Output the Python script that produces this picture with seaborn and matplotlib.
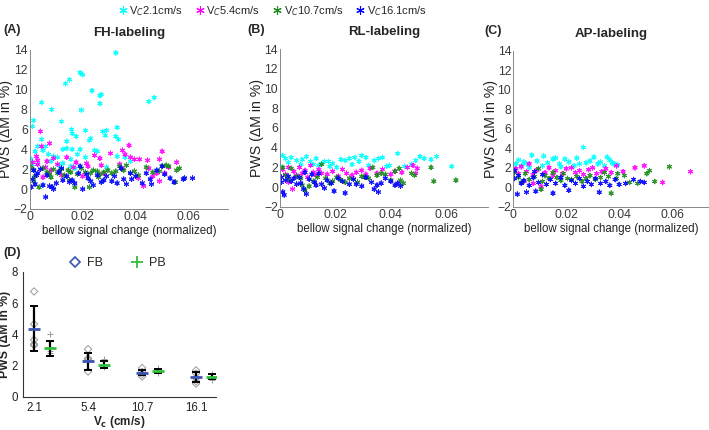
import numpy as np
import pandas as pd
import matplotlib
matplotlib.use("Agg")
from matplotlib import pyplot as plt
from matplotlib.lines import Line2D
import seaborn as sns

sns.set_theme(style="white")
plt.rcParams['font.family'] = ['Liberation Sans', 'DejaVu Sans']

speeds = ["2.1", "5.4", "10.7", "16.1"]
speed_colors = ["#00ffff", "#ff00ff", "#1a8a1a", "#0000ff"]

# ---- panel A (FH-labeling): (bellow change, PWS) per speed
fh_cyan = [(0.0325, 13.7), (0.019, 11.7), (0.020, 11.5), (0.015, 11.0), (0.0135, 10.6), (0.0235, 9.9),
           (0.027, 9.5), (0.0265, 9.4), (0.0265, 8.6), (0.0045, 8.7), (0.0083, 8.0), (0.0195, 7.95),
           (0.047, 9.2), (0.045, 8.8), (0.0015, 6.9), (0.001, 6.3), (0.012, 6.8), (0.0045, 5.0),
           (0.006, 4.3), (0.0158, 6.0), (0.016, 5.6), (0.014, 4.8), (0.0175, 5.3), (0.021, 5.9),
           (0.0225, 4.9), (0.023, 5.1), (0.0275, 5.8), (0.029, 5.9), (0.0285, 5.4), (0.033, 6.2),
           (0.0325, 5.3), (0.0335, 5.0), (0.0125, 4.0), (0.014, 4.1), (0.016, 4.0), (0.019, 4.0),
           (0.0245, 3.9), (0.0255, 3.8), (0.003, 4.3), (0.002, 3.8), (0.005, 3.9), (0.007, 3.5),
           (0.009, 3.3), (0.0105, 3.2), (0.018, 3.5), (0.0155, 3.0), (0.021, 3.2), (0.033, 3.3),
           (0.036, 3.2), (0.038, 2.8), (0.0005, 3.0), (0.001, 2.5), (0.003, 2.5), (0.008, 2.8),
           (0.011, 2.4), (0.0155, 2.3), (0.017, 2.1), (0.029, 2.2), (0.0125, 2.6)]
fh_magenta = [(0.004, 5.8), (0.0075, 4.6), (0.0045, 4.3), (0.0025, 3.3), (0.003, 2.9), (0.001, 2.7),
              (0.003, 2.5), (0.006, 2.2), (0.0065, 2.8), (0.009, 3.1), (0.0105, 2.5), (0.014, 3.2),
              (0.0175, 2.7), (0.0165, 2.2), (0.0215, 2.6), (0.022, 2.3), (0.0245, 3.4), (0.0265, 3.1),
              (0.027, 2.4), (0.0305, 3.6), (0.034, 2.5), (0.035, 3.9), (0.036, 3.5), (0.0375, 4.4),
              (0.038, 3.2), (0.0395, 3.0), (0.0415, 3.0), (0.0445, 2.9), (0.045, 2.1), (0.043, 0.3),
              (0.0465, 1.3), (0.049, 3.0), (0.050, 3.8), (0.048, 1.6), (0.051, 1.6), (0.0555, 2.7),
              (0.0525, 2.2), (0.049, 0.8), (0.020, 1.3), (0.005, 1.2), (0.008, 1.9), (0.012, 1.4),
              (0.028, 1.6), (0.041, 1.1), (0.035, 2.0)]
fh_green = [(0.0005, 2.2), (0.0015, 1.9), (0.002, 1.3), (0.0035, 0.2), (0.005, 2.1), (0.0065, 1.7),
            (0.0075, 1.5), (0.009, 2.0), (0.0105, 1.6), (0.011, 1.8), (0.012, 2.0), (0.013, 1.4),
            (0.0145, 1.9), (0.0155, 1.7), (0.017, 0.2), (0.018, 1.5), (0.0195, 2.1), (0.021, 1.7),
            (0.0225, 0.2), (0.023, 1.6), (0.024, 1.9), (0.0255, 1.8), (0.0265, 1.5), (0.028, 1.7),
            (0.0295, 1.9), (0.031, 1.6), (0.0325, 1.8), (0.034, 2.3), (0.0355, 1.9), (0.0365, 2.4),
            (0.038, 1.6), (0.0395, 1.8), (0.041, 1.4), (0.044, 2.2), (0.0465, 1.7), (0.049, 1.8),
            (0.050, 2.3), (0.0515, 2.4), (0.0525, 2.3), (0.055, 0.7), (0.0555, 1.9), (0.0565, 2.1),
            (0.0015, 0.8), (0.008, 1.2), (0.015, 0.9), (0.026, 1.2)]
fh_blue = [(0.0005, 0.2), (0.001, 1.0), (0.002, 0.5), (0.003, 1.6), (0.004, 2.0), (0.005, 0.4),
           (0.006, -0.8), (0.0065, 1.4), (0.0075, 0.3), (0.0085, 0.2), (0.009, 0.0), (0.010, 0.6),
           (0.011, 1.7), (0.012, 2.1), (0.0125, 0.9), (0.014, 1.3), (0.015, 0.7), (0.016, 0.9),
           (0.017, 0.6), (0.0185, 1.6), (0.019, 2.3), (0.020, 0.0), (0.0215, 1.5), (0.022, 1.1),
           (0.023, 0.8), (0.024, 0.4), (0.0255, 1.4), (0.027, 0.7), (0.028, 0.9), (0.029, 1.3),
           (0.031, 0.8), (0.032, 1.3), (0.033, 0.6), (0.0345, 2.1), (0.0355, 1.0), (0.0365, 0.5),
           (0.038, 1.6), (0.0385, 1.0), (0.040, 1.3), (0.0425, 0.6), (0.044, 1.6), (0.0455, 1.0),
           (0.046, 0.5), (0.048, 1.9), (0.050, 2.3), (0.051, 1.5), (0.053, 1.1), (0.0545, 0.7),
           (0.058, 1.0), (0.0615, 1.1), (0.0585, 1.1), (0.0015, 1.9), (0.0025, 1.4)]

# ---- panel B (RL-labeling)
rl_cyan = [(0.001, 3.2), (0.002, 2.9), (0.003, 2.5), (0.004, 3.0), (0.006, 2.7), (0.008, 2.8),
           (0.0095, 3.1), (0.011, 2.6), (0.012, 2.3), (0.013, 2.9), (0.014, 2.2), (0.016, 2.6),
           (0.018, 2.1), (0.019, 2.4), (0.0205, 2.0), (0.022, 2.8), (0.0235, 2.7), (0.025, 2.9),
           (0.026, 2.3), (0.027, 3.0), (0.0285, 2.6), (0.0295, 3.2), (0.031, 3.0), (0.032, 2.2),
           (0.034, 2.7), (0.0355, 2.9), (0.037, 3.0), (0.0385, 2.1), (0.0395, 2.2), (0.0425, 3.4),
           (0.045, 2.1), (0.0475, 2.3), (0.049, 2.7), (0.0505, 3.1), (0.052, 2.9), (0.0545, 2.8),
           (0.0565, 3.1), (0.062, 2.1), (0.0005, 2.0), (0.0075, 2.3), (0.015, 2.4), (0.0175, 2.6)]
rl_magenta = [(0.001, 1.8), (0.002, 1.3), (0.003, 2.0), (0.0045, -0.2), (0.005, 1.6), (0.006, 1.2),
              (0.007, 2.0), (0.008, 1.4), (0.009, 1.7), (0.010, 1.0), (0.011, 2.2), (0.012, 1.5),
              (0.013, 1.2), (0.014, 1.8), (0.015, 1.4), (0.017, 1.3), (0.019, 1.6), (0.021, 1.1),
              (0.0225, 1.8), (0.024, 1.4), (0.026, 1.2), (0.0275, 1.5), (0.0295, 1.7), (0.031, 1.3),
              (0.0325, 1.9), (0.035, 1.4), (0.037, 1.8), (0.040, 1.3), (0.0415, 1.6), (0.044, 1.5),
              (0.046, 2.0), (0.048, 2.2), (0.049, 1.4), (0.0495, 1.9), (0.003, 0.5)]
rl_green = [(0.001, 2.0), (0.002, 1.2), (0.003, 0.8), (0.004, 1.9), (0.006, 1.1), (0.0075, 0.9),
            (0.008, 0.2), (0.009, -0.3), (0.0105, 0.1), (0.012, 0.6), (0.0135, 1.0), (0.015, 2.3),
            (0.0165, 0.9), (0.018, 0.4), (0.019, 0.6), (0.0205, 1.0), (0.022, 0.7), (0.0235, 0.5),
            (0.025, 0.9), (0.0265, 0.8), (0.028, 0.5), (0.0295, 1.1), (0.0305, 1.0), (0.032, 0.9),
            (0.0335, 2.0), (0.035, 1.2), (0.0365, 1.4), (0.038, 1.3), (0.040, 0.7), (0.0415, 1.6),
            (0.043, 1.9), (0.0435, 0.7), (0.0445, 0.4), (0.0475, 1.4), (0.0485, 1.2), (0.0545, 2.0),
            (0.0555, 0.6), (0.0635, 0.7)]
rl_blue = [(0.0005, 0.5), (0.001, -0.5), (0.0015, -0.8), (0.002, 0.7), (0.003, 1.1), (0.004, 0.6),
           (0.005, 0.9), (0.006, 0.3), (0.007, 1.0), (0.0075, 0.4), (0.0085, -0.2), (0.0095, -0.7),
           (0.0105, 0.8), (0.0115, 1.3), (0.0125, 0.5), (0.013, 0.2), (0.014, 1.4), (0.015, 0.3),
           (0.016, -0.1), (0.017, 0.7), (0.0185, 0.4), (0.0195, -0.4), (0.021, 0.9), (0.0225, 0.6),
           (0.0235, -0.6), (0.025, 0.3), (0.0265, 0.8), (0.0275, 0.3), (0.0295, 0.1), (0.031, 1.0),
           (0.033, 0.5), (0.034, -0.2), (0.035, 0.2), (0.0355, -0.5), (0.0365, 0.4), (0.038, 0.9),
           (0.040, 0.6), (0.0415, 0.2), (0.0425, 0.4), (0.0435, 0.1), (0.0005, 1.0), (0.009, 1.5)]

# ---- panel C (AP-labeling)
ap_cyan = [(0.001, 2.4), (0.002, 2.8), (0.003, 2.2), (0.004, 2.6), (0.005, 2.4), (0.007, 3.3),
           (0.009, 2.7), (0.0115, 3.2), (0.013, 2.5), (0.015, 2.9), (0.016, 3.0), (0.0175, 2.4),
           (0.0195, 2.9), (0.021, 2.6), (0.023, 2.2), (0.024, 3.0), (0.025, 2.4), (0.0265, 4.1),
           (0.0275, 2.5), (0.029, 2.7), (0.0305, 3.1), (0.032, 2.4), (0.033, 2.6), (0.0345, 2.2),
           (0.0355, 3.1), (0.0365, 2.8), (0.0375, 2.5), (0.038, 2.4), (0.0395, 2.3), (0.0005, 1.9),
           (0.006, 2.0), (0.011, 2.2), (0.018, 2.1)]
ap_magenta = [(0.001, 1.9), (0.002, 1.4), (0.003, 2.1), (0.004, 0.6), (0.005, 1.6), (0.006, 2.4),
              (0.0075, 1.3), (0.009, 1.8), (0.0105, 0.1), (0.012, 1.5), (0.0135, 2.0), (0.015, 1.2),
              (0.016, 1.7), (0.0185, 1.4), (0.020, 1.9), (0.022, 2.0), (0.0235, 1.5), (0.025, 1.7),
              (0.0265, 1.3), (0.0285, 1.8), (0.030, 2.0), (0.0315, 1.4), (0.0335, 1.6), (0.035, 1.9),
              (0.037, 1.5), (0.039, 2.2), (0.0415, 1.6), (0.046, 2.0), (0.0495, 2.2), (0.0565, 0.5),
              (0.067, 1.6), (0.0075, 0.4)]
ap_green = [(0.0005, 1.5), (0.002, 1.0), (0.003, 0.5), (0.0045, 1.4), (0.006, 0.8), (0.008, 1.1),
            (0.0095, 1.9), (0.011, 0.6), (0.012, 1.2), (0.0135, 0.9), (0.015, 1.5), (0.0165, 1.0),
            (0.018, 0.7), (0.019, 1.4), (0.0205, 0.9), (0.022, 0.8), (0.024, 1.1), (0.026, 0.6),
            (0.0275, 0.9), (0.029, 1.2), (0.031, 0.8), (0.033, 1.0), (0.0345, 1.5), (0.036, 1.1),
            (0.037, -0.6), (0.039, 0.9), (0.0395, 1.4), (0.042, 1.2), (0.044, 0.5), (0.047, 0.4),
            (0.0505, 1.4), (0.0515, 1.7), (0.0535, 0.6), (0.059, 2.1), (0.0105, -0.2)]
ap_blue = [(0.0005, 0.9), (0.0015, -0.7), (0.002, 1.2), (0.003, 0.4), (0.004, 0.7), (0.005, -0.5),
           (0.006, 0.2), (0.0075, 1.0), (0.0085, -0.4), (0.0095, 0.5), (0.011, 1.3), (0.0125, 0.3),
           (0.014, 0.8), (0.015, -0.6), (0.016, 0.4), (0.018, 1.0), (0.0195, 0.2), (0.021, -0.3),
           (0.022, 0.7), (0.0235, 0.4), (0.025, 0.9), (0.0265, 0.1), (0.028, 0.6), (0.0295, 0.3),
           (0.031, 0.9), (0.0325, -0.5), (0.033, 0.4), (0.035, 0.6), (0.0365, 0.2), (0.0385, 0.8),
           (0.040, 0.3), (0.0425, 0.4), (0.0455, 0.8), (0.048, 0.6), (0.0495, 0.5), (0.0005, 1.7),
           (0.008, 1.6)]

# ---- panel D: group summaries (mean, low, high) and individual subjects
d_fb_mean = [4.35, 2.27, 1.55, 1.28]
d_fb_low = [2.95, 1.74, 1.38, 0.95]
d_fb_high = [5.82, 2.80, 1.75, 1.62]
d_pb_mean = [3.10, 2.06, 1.68, 1.30]
d_pb_low = [2.63, 1.84, 1.55, 1.15]
d_pb_high = [3.60, 2.32, 1.80, 1.45]
d_fb_points = [[6.74, 4.65, 3.65, 3.37, 3.30], [3.05, 2.47, 2.37, 1.62],
               [1.85, 1.60, 1.45, 1.30], [1.70, 1.50, 1.20, 1.00, 0.85]]
d_pb_points = [[4.00, 2.95, 2.80], [2.40, 1.94],
               [1.85, 1.55], [1.45, 1.20, 1.10]]


def make_df(groups):
    rows = []
    for spd, pts in zip(speeds, groups):
        for x, y in pts:
            rows.append({"x": x, "y": y, "speed": spd})
    return pd.DataFrame(rows)


# (label, title, data, rect, xmax, tag x, ylabel x) - x values in axes fractions
panels = [
    ("(A)", "FH-labeling", make_df([fh_cyan, fh_magenta, fh_green, fh_blue]),
     [0.042, 0.514, 0.280, 0.370], 0.075, -0.135, -0.085),
    ("(B)", "RL-labeling", make_df([rl_cyan, rl_magenta, rl_green, rl_blue]),
     [0.395, 0.519, 0.293, 0.367], 0.075, -0.155, -0.078),
    ("(C)", "AP-labeling", make_df([ap_cyan, ap_magenta, ap_green, ap_blue]),
     [0.724, 0.519, 0.276, 0.363], 0.074, -0.15, -0.08),
]

fig = plt.figure(figsize=(7.09, 4.30), dpi=100)
axis_col = "#3a3a3a"
asterisk = (6, 2, 0)

for tag, title, df, rect, xmax, tagx, labx in panels:
    ax = fig.add_axes(rect)
    sns.scatterplot(data=df, x="x", y="y", hue="speed", hue_order=speeds,
                    palette=speed_colors, marker=asterisk, s=11, linewidth=0.7,
                    alpha=0.9, legend=False, ax=ax)
    ax.set_xlim(0, xmax)
    ax.set_ylim(-2, 14)
    ax.set_xticks([0, 0.02, 0.04, 0.06])
    ax.set_xticklabels(["0", "0.02", "0.04", "0.06"])
    ax.set_yticks(range(-2, 15, 2))
    ax.tick_params(direction="in", length=2.5, width=0.6, labelsize=8.8,
                   colors=axis_col, pad=1.5)
    for s in ["top", "right"]:
        ax.spines[s].set_visible(False)
    for s in ["left", "bottom"]:
        ax.spines[s].set_color("#888888")
        ax.spines[s].set_linewidth(0.7)
    ax.set_xlabel("bellow signal change (normalized)", fontsize=8.3, color="#222222", labelpad=1.5)
    ax.set_ylabel("PWS (\u0394M in %)", fontsize=10.2, color="#222222")
    ax.yaxis.set_label_coords(labx, 0.5)
    ax.set_title(title, fontsize=9.5, fontweight="bold", pad=10)
    ax.text(tagx, 1.085, tag, transform=ax.transAxes, fontsize=9, fontweight="bold",
            ha="left", va="bottom")

# top legend
handles = [Line2D([], [], linestyle="none", marker=asterisk, markersize=6,
                  markeredgewidth=0.8, color=c) for c in speed_colors]
labels = ["V$_C$" + s + "cm/s" for s in speeds]
fig.legend(handles, labels, loc="center", bbox_to_anchor=(0.384, 0.974), ncol=4,
           frameon=False, fontsize=8, columnspacing=1.05, handletextpad=0.15,
           handlelength=0.9)

# ---- panel D
axd = fig.add_axes([0.032, 0.077, 0.272, 0.291])
fb_blue = "#3a55b5"
pb_green = "#2fbf3a"
off = 0.30
rows = []
for i, (fbp, pbp) in enumerate(zip(d_fb_points, d_pb_points)):
    for v in fbp:
        rows.append({"pos": i, "val": v, "grp": "FB"})
    for v in pbp:
        rows.append({"pos": i + off, "val": v, "grp": "PB"})
pts = pd.DataFrame(rows)
sns.scatterplot(data=pts[pts.grp == "FB"], x="pos", y="val", marker="D", s=14,
                facecolor="none", edgecolor="#9a9a9a", linewidth=0.7, ax=axd, legend=False)
sns.scatterplot(data=pts[pts.grp == "PB"], x="pos", y="val", marker="+", s=22,
                color="#9a9a9a", linewidth=0.7, ax=axd, legend=False)

idx = np.arange(len(speeds))
for pos, m, lo, hi, col in [(idx, d_fb_mean, d_fb_low, d_fb_high, fb_blue),
                            (idx + off, d_pb_mean, d_pb_low, d_pb_high, pb_green)]:
    m = np.array(m)
    axd.errorbar(pos, m, yerr=[m - np.array(lo), np.array(hi) - m], fmt="none",
                 ecolor="black", elinewidth=1.6, capsize=3, capthick=1.4, zorder=3)
    axd.scatter(pos, m, marker="_", s=85, color=col, linewidths=2.0, zorder=4)

axd.set_xlim(-0.21, 3.36)
axd.set_ylim(0, 8)
axd.set_xticks(idx)
axd.set_xticklabels(speeds)
axd.set_yticks([0, 2, 4, 6, 8])
axd.tick_params(direction="out", length=2.5, width=0.7, labelsize=8.3, colors="#222222", pad=1)
for s in ["top", "right"]:
    axd.spines[s].set_visible(False)
for s in ["left", "bottom"]:
    axd.spines[s].set_color("#333333")
    axd.spines[s].set_linewidth(0.8)
axd.set_xlabel("V$_\\mathbf{c}$ (cm/s)", fontsize=8.5, fontweight="bold", labelpad=0)
axd.set_ylabel("PWS (\u0394M in %)", fontsize=8.8, fontweight="bold")
axd.yaxis.set_label_coords(-0.062, 0.5)
axd.text(-0.1, 1.1, "(D)", transform=axd.transAxes, fontsize=9, fontweight="bold",
         ha="left", va="bottom")
dh = [Line2D([], [], linestyle="none", marker="D", markersize=5.5, markerfacecolor="none",
             markeredgecolor=fb_blue, markeredgewidth=1.2),
      Line2D([], [], linestyle="none", marker="+", markersize=8, color=pb_green,
             markeredgewidth=1.3)]
axd.legend(dh, ["FB", "PB"], loc="center", bbox_to_anchor=(0.49, 1.07), ncol=2,
           frameon=False, fontsize=9, columnspacing=2.2, handletextpad=0.5,
           handlelength=1.0)

fig.savefig("out.png", dpi=100)
